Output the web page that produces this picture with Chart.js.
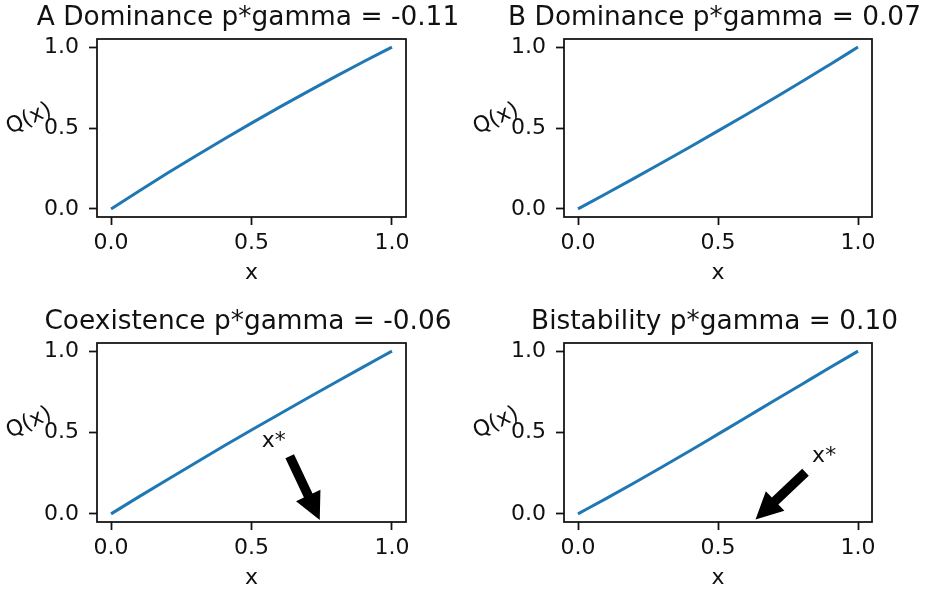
<!DOCTYPE html>
<html><head><meta charset="utf-8">
<script src="https://cdn.jsdelivr.net/npm/chart.js@4/dist/chart.umd.min.js"></script>
<style>
html,body{margin:0;padding:0;background:#fff;width:927px;height:593px;overflow:hidden;position:relative}
canvas{position:absolute}
</style></head><body>
<canvas id="cA" width="494" height="296" style="left:0px;top:0px"></canvas>
<canvas id="cB" width="493" height="296" style="left:467px;top:0px"></canvas>
<canvas id="cC" width="494" height="297" style="left:0px;top:296px"></canvas>
<canvas id="cD" width="493" height="297" style="left:467px;top:296px"></canvas>
<script>
// ---- data ----
const X_VALUES = [0, 0.1, 0.2, 0.3, 0.4, 0.5, 0.6, 0.7, 0.8, 0.9, 1.0];
const Q_A = [0, 0.111, 0.220, 0.326, 0.429, 0.530, 0.629, 0.725, 0.819, 0.911, 1.0];
const Q_B = [0, 0.094, 0.189, 0.285, 0.383, 0.482, 0.582, 0.684, 0.787, 0.893, 1.0];
const Q_C = [0, 0.106, 0.210, 0.313, 0.415, 0.515, 0.614, 0.712, 0.809, 0.905, 1.0];
const Q_D = [0, 0.094, 0.190, 0.288, 0.388, 0.490, 0.592, 0.695, 0.797, 0.899, 1.0];
const TICKS = [0, 0.5, 1.0];
const TITLES = ['A Dominance p*gamma = -0.11', 'B Dominance p*gamma = 0.07',
                'Coexistence p*gamma = -0.06', 'Bistability p*gamma = 0.10'];
const X_LABEL = 'x';
const Y_LABEL = 'Q(x)';
const XSTAR_LABEL = 'x*';
// annotation (data coordinates): text position, arrow tail, arrow tip
const C_XSTAR_TEXT = [0.579, 0.445];
const C_ARROW_TAIL = [0.636, 0.354];
const C_ARROW_TIP  = [0.743, -0.037];
const D_XSTAR_TEXT = [0.879, 0.355];
const D_ARROW_TAIL = [0.8125, 0.256];
const D_ARROW_TIP  = [0.634, -0.035];

const FONT = '"DejaVu Sans", sans-serif';
const INK = '#111';

function drawArrow(ctx, x0, y0, x1, y1, w, hw, hl) {
  const dx = x1 - x0, dy = y1 - y0, L = Math.hypot(dx, dy);
  const ux = dx / L, uy = dy / L, px = -uy, py = ux;
  const bx = x1 - ux * hl, by = y1 - uy * hl;
  ctx.beginPath();
  ctx.moveTo(x0 + px * w / 2, y0 + py * w / 2);
  ctx.lineTo(bx + px * w / 2, by + py * w / 2);
  ctx.lineTo(bx + px * hw / 2, by + py * hw / 2);
  ctx.lineTo(x1, y1);
  ctx.lineTo(bx - px * hw / 2, by - py * hw / 2);
  ctx.lineTo(bx - px * w / 2, by - py * w / 2);
  ctx.lineTo(x0 - px * w / 2, y0 - py * w / 2);
  ctx.closePath();
  ctx.fill();
}

const decor = {
  id: 'decor',
  afterDatasetsDraw(chart, args, opts) {
    const {ctx, chartArea: a} = chart;
    const sx = chart.scales.x, sy = chart.scales.y;
    ctx.save();
    ctx.lineWidth = 1.76; ctx.strokeStyle = INK;
    ctx.strokeRect(a.left, a.top, a.right - a.left, a.bottom - a.top);
    ctx.fillStyle = INK;
    // panel title
    ctx.font = '26.4px ' + FONT;
    ctx.textAlign = 'center'; ctx.textBaseline = 'alphabetic';
    ctx.fillText(opts.title, (a.left + a.right) / 2 - 3.5, a.top - 14.5);
    // rotated y label
    ctx.font = '22px ' + FONT;
    ctx.textBaseline = 'middle';
    ctx.save();
    ctx.translate(a.left - 68, a.top + 80);
    ctx.rotate(-25 * Math.PI / 180);
    ctx.fillText(Y_LABEL, 0, 0);
    ctx.restore();
    if (opts.arrow) {
      const t = opts.arrow.text, p0 = opts.arrow.tail, p1 = opts.arrow.tip;
      ctx.fillStyle = INK;
      ctx.fillText(XSTAR_LABEL, sx.getPixelForValue(t[0]), sy.getPixelForValue(t[1]));
      ctx.fillStyle = '#000';
      drawArrow(ctx, sx.getPixelForValue(p0[0]), sy.getPixelForValue(p0[1]),
                sx.getPixelForValue(p1[0]), sy.getPixelForValue(p1[1]), 9.5, 27, 27);
    }
    ctx.restore();
  }
};

function makeChart(id, values, title, pad, arrow) {
  const axisCommon = {
    type: 'linear', min: -0.05, max: 1.05,
    afterBuildTicks: s => { s.ticks = TICKS.map(v => ({value: v})); },
    grid: {display: true, drawOnChartArea: false, drawTicks: true, tickLength: 8, tickWidth: 1.76, tickColor: INK},
    border: {display: false}
  };
  return new Chart(document.getElementById(id), {
    type: 'line',
    data: {datasets: [{
      data: X_VALUES.map((v, i) => ({x: v, y: values[i]})),
      borderColor: '#1f77b4', borderWidth: 3, pointRadius: 0, fill: false,
      cubicInterpolationMode: 'monotone'
    }]},
    options: {
      responsive: false, animation: false, events: [],
      layout: {padding: pad},
      plugins: {
        legend: {display: false}, tooltip: {enabled: false}, title: {display: false},
        decor: {arrow: arrow, title: title}
      },
      scales: {
        x: Object.assign({}, axisCommon, {
          position: 'bottom',
          afterFit: s => { s.height = 69; },
          ticks: {color: INK, font: {family: FONT, size: 22}, padding: 5, maxRotation: 0, autoSkip: false,
                  callback: v => Number(v).toFixed(1)},
          title: {display: true, text: X_LABEL, color: INK, font: {family: FONT, size: 22}, padding: 0}
        }),
        y: Object.assign({}, axisCommon, {
          position: 'left',
          afterFit: s => { s.width = 97; },
          ticks: {color: INK, font: {family: FONT, size: 22}, padding: 10, autoSkip: false,
                  callback: v => Number(v).toFixed(1)}
        })
      }
    },
    plugins: [decor]
  });
}

makeChart('cA', Q_A, TITLES[0], {left: 0, right: 88, top: 39, bottom: 10}, null);
makeChart('cB', Q_B, TITLES[1], {left: 0, right: 88, top: 39, bottom: 10}, null);
makeChart('cC', Q_C, TITLES[2], {left: 0, right: 88, top: 47, bottom: 2},
          {text: C_XSTAR_TEXT, tail: C_ARROW_TAIL, tip: C_ARROW_TIP});
makeChart('cD', Q_D, TITLES[3], {left: 0, right: 88, top: 47, bottom: 2},
          {text: D_XSTAR_TEXT, tail: D_ARROW_TAIL, tip: D_ARROW_TIP});
</script>
</body></html>
